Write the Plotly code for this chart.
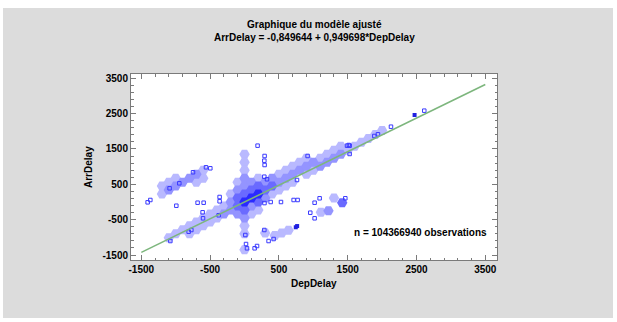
import plotly.graph_objects as go

# ---- data ----
title_lines = ["Graphique du modèle ajusté", "ArrDelay = -0,849644 + 0,949698*DepDelay"]
intercept = -0.849644
slope = 0.949698
fit_x = [-1500, 3500]
n_text = "n = 104366940 observations"

x_ticks = [-1500, -500, 500, 1500, 2500, 3500]
y_ticks = [-1500, -500, 500, 1500, 2500, 3500]

# hexagonal bins (centres), by density class
light_x = [0, 0, 0, 0, 0, 0, -100, 100, 200, 200, -200, -300, -400, -400, -500, -500, -600, -600,
           -700, -700, -800, -800, -900, -1000, -1100,
           -1200, -1200, -1100, -1000, -600, -600, -700,
           400, 500, 500, 600, 600, 700, 700, 800, 900, 900, 1000, 1100, 1200, 1300, 1400,
           1500, 1600, 1700, 1800, 1900, 2000,
           1300, 1110, 300, 440, 540, 640]
light_y = [1350, 1125, 900, -675, -900, -1350, 562.5, -337.5, 675, -225, 225, -112.5, -225, -450, -562.5, -337.5, -675, -450,
           -562.5, -787.5, -675, -900, -787.5, -900, -1012.5,
           450, 225, 562.5, 675, 675, 900, 562.5,
           225, 787.5, 337.5, 900, 450, 1012.5, 562.5, 1125, 787.5, 1237.5, 900, 1237.5, 1350, 1462.5, 1575,
           1462.5, 1575, 1687.5, 1800, 1912.5, 2025,
           110, -290, -880, -950, -880, -800]

mid_x = [0, 0, 0, -100, -100, 100, 100, -200, -200, -300, 300, 300, 400, 500, 600, 700, 800, 900, 1000,
         1100, 1200, 1300, 1400, -1100, -1000, -900, -800, -700, 1220]
mid_y = [675, 450, -450, 337.5, -337.5, 562.5, -112.5, 0, -225, -337.5, 112.5, 562.5, 675, 562.5, 675, 787.5, 900,
         1012.5, 1125, 1012.5, 1125, 1237.5, 1350, 337.5, 450, 562.5, 675, 787.5, -245]

dark_x = [0, 0, -100, -100, 100, 200, 200, 300, 400, 1420]
dark_y = [225, -225, 112.5, -112.5, 337.5, 0, 450, 337.5, 450, -20]

core_x = [0, 100, 200]
core_y = [0, 112.5, 225]

# isolated observations (open squares)
single_x = [-560, -497, -749, -948, -1089, -1408, -1369, -991, -682, -594, -362, -362, -609, -603, -376,
            -773, -812, -1078, 190, 12, 22, 36, 147, 182, 292, 288, 292, 288, 327, 290, 380, 530, 714,
            772, 1019, 956, 1019, 288, 423, 350, 917, 763, 1092, 1465, 1514, 1490, 1528, 1528, 1887,
            1940, 2129, 2613]
single_y = [982, 954, 841, 529, 388, -9, 57, -105, -20, -20, 142, 20, -291, -461, -376,
            -792, -840, -1104, 1594, -934, -1189, -1310, -1310, -1245, 1302, 1169, 1047, 716, 643, -30, 0, 0, 57,
            57, -20, -303, -461, -792, -1047, -1104, 1302, 623, 105, 105, 1613, 1594, 1594, 1359, 1868,
            1916, 2131, 2584]
dense_single_x = [2472, 745, 765]
dense_single_y = [2462, -715, -680]

# ---- figure ----
fig = go.Figure()

levels = [(light_x, light_y, "#b9b9ff"), (mid_x, mid_y, "#9494ff"),
          (dark_x, dark_y, "#6a6aff"), (core_x, core_y, "#2a2aff")]
for xs, ys, col in levels:
    fig.add_trace(go.Scatter(x=xs, y=ys, mode="markers",
                             marker=dict(symbol="hexagon2", size=10.4, color=col, line=dict(width=0)),
                             hoverinfo="skip", showlegend=False))

fig.add_trace(go.Scatter(x=single_x, y=single_y, mode="markers",
                         marker=dict(symbol="square-open", size=3.5, color="#3a3aff", line=dict(width=1)),
                         showlegend=False))
fig.add_trace(go.Scatter(x=dense_single_x, y=dense_single_y, mode="markers",
                         marker=dict(symbol="square", size=4, color="#2020e0"),
                         showlegend=False))

fit_y = [intercept + slope * v for v in fit_x]
fig.add_trace(go.Scatter(x=fit_x, y=fit_y, mode="lines",
                         line=dict(color="#7db67d", width=1.6), showlegend=False))

font = dict(family="Liberation Sans, Arial, sans-serif", size=10, color="#000000")
axis_common = dict(showline=True, linecolor="#7a7a7a", linewidth=1, mirror="ticks",
                   ticks="inside", ticklen=5, tickcolor="#7a7a7a", tickwidth=1,
                   showgrid=False, zeroline=False,
                   tickfont=dict(family="Liberation Sans, Arial, sans-serif", size=10, color="#000"),
                   minor=dict(ticks="inside", ticklen=2.5, dtick=200, tickcolor="#7a7a7a", showgrid=False))

fig.update_layout(
    width=617, height=322,
    margin=dict(l=131, r=120, t=74, b=62),
    paper_bgcolor="#ffffff", plot_bgcolor="#ffffff",
    showlegend=False,
    font=font,
    xaxis=dict(range=[-1650, 3670], tickmode="array", tickvals=x_ticks,
               ticktext=["<b>%d</b>" % v for v in x_ticks], **axis_common),
    yaxis=dict(range=[-1641, 3622], tickmode="array", tickvals=y_ticks,
               ticktext=["<b>%d</b>" % v for v in y_ticks], **axis_common),
    shapes=[
        dict(type="rect", xref="paper", yref="paper", x0=-0.3497, x1=1.317, y0=-0.312, y1=1.355,
             fillcolor="#dcdcdc", line=dict(width=0), layer="below"),
        dict(type="rect", xref="paper", yref="paper", x0=0, x1=1, y0=0, y1=1,
             fillcolor="#ffffff", line=dict(width=0), layer="below"),
    ],
    annotations=[
        dict(text="<b>%s</b>" % title_lines[0], xref="paper", yref="paper", x=0.5, y=(260 - 24) / 186,
             showarrow=False, xanchor="center", yanchor="middle", font=font),
        dict(text="<b>%s</b>" % title_lines[1], xref="paper", yref="paper", x=0.5, y=(260 - 38) / 186,
             showarrow=False, xanchor="center", yanchor="middle", font=font),
        dict(text="<b>DepDelay</b>", xref="paper", yref="paper", x=0.5, y=(260 - 283) / 186,
             showarrow=False, xanchor="center", yanchor="middle", font=font),
        dict(text="<b>ArrDelay</b>", xref="paper", yref="paper", x=(88 - 131) / 366, y=0.5,
             showarrow=False, xanchor="center", yanchor="middle", textangle=-90, font=font),
        dict(text="<b>%s</b>" % n_text, xref="paper", yref="paper", x=(489 - 131) / 366, y=(260 - 232) / 186,
             showarrow=False, xanchor="right", yanchor="middle", font=font),
    ],
)
fig.update_xaxes(tickangle=0, minor_tick0=-1500)
fig.update_yaxes(minor_tick0=-1500)

fig.write_html("out.html", config={"displayModeBar": False},
               post_script="document.body.style.margin='0px';")
